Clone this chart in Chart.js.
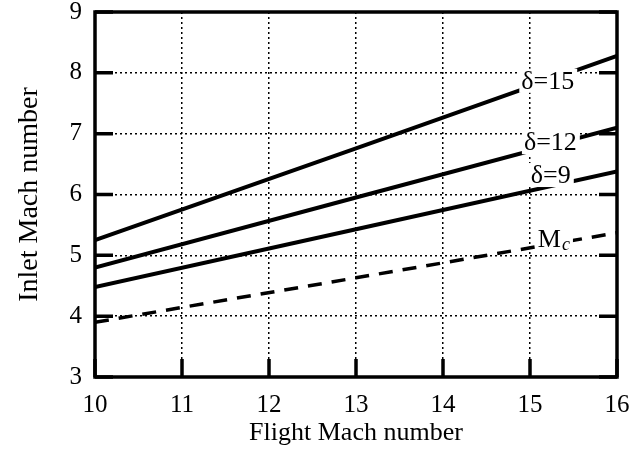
<!DOCTYPE html>
<html>
<head>
<meta charset="utf-8">
<script src="https://cdn.jsdelivr.net/npm/chart.js@4.4.1/dist/chart.umd.min.js"></script>
<style>
  html, body { margin: 0; padding: 0; background: #fff; }
  #wrap { width: 638px; height: 454px; }
</style>
</head>
<body>
<div id="wrap"><canvas id="inlet"></canvas></div>
<script>
// Mach de vuelo (eje x) y Mach a la entrada para cada ángulo de rampa
var flightMach = [10, 13, 16];
var delta15 = [5.25, 6.76, 8.28];
var delta12 = [4.8, 5.95, 7.1];
var delta9 = [4.48, 5.43, 6.38];
var machC = [3.9, 4.63, 5.37];

var xTicks = [10, 11, 12, 13, 14, 15, 16];
var yTicks = [3, 4, 5, 6, 7, 8, 9];

function toPoints(ys) {
  return flightMach.map(function (x, i) { return { x: x, y: ys[i] }; });
}

var serif = '"Liberation Serif", "DejaVu Serif", serif';

// Etiquetas sobre las curvas (con fondo blanco para cortar la línea)
var curveLabels = [
  { text: 'δ=15', x: 14.9, y: 7.87 },
  { text: 'δ=12', x: 14.93, y: 6.86 },
  { text: 'δ=9', x: 15.01, y: 6.32 },
  { text: 'M', sub: 'c', x: 15.09, y: 5.27 }
];

// Marco, marcas interiores y etiquetas de curvas
var framePlugin = {
  id: 'frame',
  afterDatasetsDraw: function (chart) {
    var ctx = chart.ctx;
    var a = chart.chartArea;
    var xs = chart.scales.x, ys = chart.scales.y;
    var main = '26px ' + serif, small = 'italic 18px ' + serif;
    ctx.save();

    ctx.textBaseline = 'middle';
    curveLabels.forEach(function (l) {
      var px = xs.getPixelForValue(l.x);
      var py = ys.getPixelForValue(l.y);
      ctx.font = main;
      var mw = ctx.measureText(l.text).width;
      var w = mw;
      if (l.sub) {
        ctx.font = small;
        w += ctx.measureText(l.sub).width + 1;
      }
      ctx.fillStyle = '#fff';
      ctx.fillRect(px - 2, py - 12, w + 5, 24);
      ctx.fillStyle = '#000';
      ctx.font = main;
      ctx.fillText(l.text, px, py + 1);
      if (l.sub) {
        ctx.font = small;
        ctx.fillText(l.sub, px + mw + 1, py + 6);
      }
    });

    ctx.strokeStyle = '#000';
    ctx.lineWidth = 3.5;
    ctx.strokeRect(a.left, a.top, a.right - a.left, a.bottom - a.top);

    var tl = 18;
    ctx.beginPath();
    yTicks.forEach(function (v) {
      var py = ys.getPixelForValue(v);
      ctx.moveTo(a.left, py); ctx.lineTo(a.left + tl, py);
      ctx.moveTo(a.right, py); ctx.lineTo(a.right - tl, py);
    });
    xTicks.forEach(function (v) {
      var px = xs.getPixelForValue(v);
      ctx.moveTo(px, a.bottom); ctx.lineTo(px, a.bottom - tl);
    });
    ctx.stroke();
    ctx.restore();
  }
};

var lineStyle = {
  borderColor: '#000',
  borderWidth: 4,
  pointRadius: 0,
  fill: false,
  tension: 0
};

new Chart(document.getElementById('inlet').getContext('2d'), {
  type: 'line',
  data: {
    datasets: [
      Object.assign({ label: 'δ=15', data: toPoints(delta15) }, lineStyle),
      Object.assign({ label: 'δ=12', data: toPoints(delta12) }, lineStyle),
      Object.assign({ label: 'δ=9', data: toPoints(delta9) }, lineStyle),
      Object.assign({ label: 'Mc', data: toPoints(machC) }, lineStyle, { borderDash: [14, 10], borderWidth: 3.5 })
    ]
  },
  options: {
    responsive: true,
    maintainAspectRatio: false,
    animation: false,
    layout: { padding: { left: 13, right: 21, top: 12, bottom: 5 } },
    plugins: {
      legend: { display: false },
      tooltip: { enabled: false }
    },
    scales: {
      x: {
        type: 'linear',
        min: 10,
        max: 16,
        afterBuildTicks: function (s) { s.ticks = xTicks.map(function (v) { return { value: v }; }); },
        afterFit: function (s) { s.height = 72; s.paddingLeft = 0; s.paddingRight = 0; },
        ticks: { color: '#000', padding: 13, maxRotation: 0, font: { family: serif, size: 25 } },
        grid: { color: '#000', lineWidth: 1.5, drawTicks: false },
        border: { display: false, dash: [2, 3] },
        title: {
          display: true,
          text: 'Flight Mach number',
          color: '#000',
          padding: 0,
          font: { family: serif, size: 26 }
        }
      },
      y: {
        min: 3,
        max: 9,
        afterBuildTicks: function (s) { s.ticks = yTicks.map(function (v) { return { value: v }; }); },
        afterFit: function (s) { s.width = 82; s.paddingTop = 0; s.paddingBottom = 0; },
        ticks: { color: '#000', padding: 13, font: { family: serif, size: 25 } },
        grid: { color: '#000', lineWidth: 1.5, drawTicks: false },
        border: { display: false, dash: [2, 3] },
        title: {
          display: true,
          text: 'Inlet Mach number',
          color: '#000',
          padding: 0,
          font: { family: serif, size: 28 }
        }
      }
    }
  },
  plugins: [framePlugin]
});
</script>
</body>
</html>
